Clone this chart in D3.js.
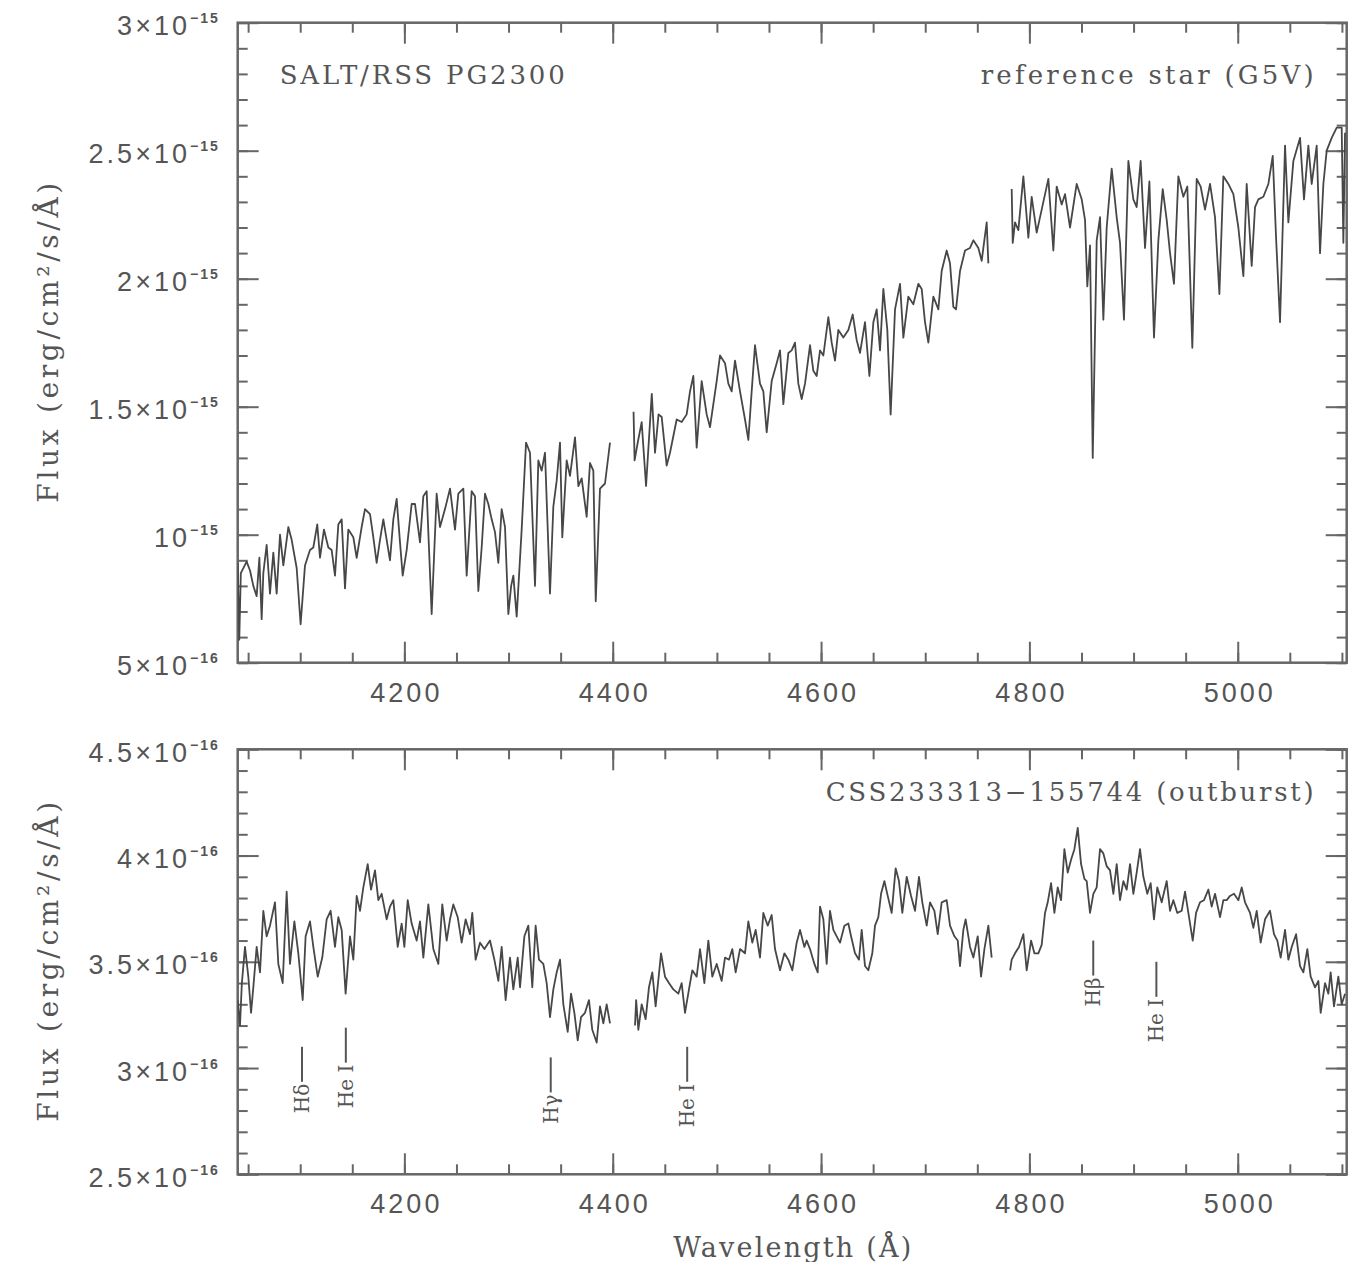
<!DOCTYPE html>
<html>
<head>
<meta charset="utf-8">
<script src="https://cdn.jsdelivr.net/npm/d3@7"></script>
<style>
  body { margin: 0; background: #fff; }
  svg text { fill: #555; }
</style>
</head>
<body>
<svg id="chart" width="1356" height="1262"></svg>
<script>
// flux values in units of 1e-16 erg/cm2/s/A, [wavelength, flux]
// null marks the chip gaps of the RSS detector
var topSpec = [
  [4040.0, 8.9], [4041.5, 5.9], [4043.0, 8.5], [4048.6, 8.95], [4051.8, 8.6], [4055.0, 8.0],
  [4058.2, 7.6], [4060.8, 9.1], [4063.0, 6.7], [4064.6, 8.5], [4067.8, 9.6], [4071.0, 7.7],
  [4074.2, 9.3], [4077.4, 7.7], [4080.6, 10.0], [4083.8, 8.8], [4088.6, 10.3], [4091.8, 9.8],
  [4096.6, 8.7], [4100.4, 6.5], [4104.6, 8.8], [4109.4, 9.4], [4112.6, 9.5], [4116.4, 10.4],
  [4119.0, 9.1], [4122.8, 10.2], [4127.0, 9.5], [4130.2, 9.4], [4133.4, 8.4], [4136.6, 10.4],
  [4139.8, 10.6], [4143.0, 7.9], [4146.2, 10.2], [4151.0, 9.9], [4154.2, 9.1], [4159.0, 10.3],
  [4162.2, 11.0], [4167.0, 10.8], [4170.2, 9.9], [4173.4, 8.9], [4176.6, 9.8], [4179.8, 10.6],
  [4183.0, 9.8], [4186.2, 9.0], [4189.4, 10.6], [4192.6, 11.4], [4195.8, 9.7], [4198.4, 8.4],
  [4202.2, 9.4], [4207.0, 11.2], [4210.2, 11.2], [4215.0, 9.7], [4218.2, 11.5], [4221.4, 11.7],
  [4226.2, 6.9], [4231.0, 11.6], [4234.2, 10.3], [4239.0, 11.0], [4243.8, 11.8], [4248.6, 10.2],
  [4251.8, 11.6], [4256.6, 11.8], [4259.8, 8.4], [4264.6, 11.7], [4267.8, 11.5], [4271.0, 7.8],
  [4274.2, 9.5], [4277.4, 11.6], [4280.6, 11.2], [4283.8, 10.6], [4287.0, 10.1], [4290.2, 8.9],
  [4293.4, 11.0], [4296.6, 10.3], [4299.8, 6.9], [4302.5, 8.0], [4304.6, 8.4], [4307.8, 6.8],
  [4312.6, 10.2], [4316.8, 13.6], [4320.6, 13.2], [4325.4, 8.0], [4328.6, 12.9], [4331.8, 12.5],
  [4335.0, 13.2], [4339.8, 7.7], [4343.0, 11.1], [4346.2, 12.1], [4349.4, 13.6], [4351.6, 9.9],
  [4355.8, 12.9], [4359.0, 12.3], [4363.8, 13.8], [4367.0, 11.9], [4370.2, 12.2], [4375.0, 10.7],
  [4378.2, 12.8], [4381.4, 12.5], [4383.7, 7.4], [4387.8, 11.8], [4392.6, 12.0], [4397.4, 13.6],
  null,
  [4420.0, 14.8], [4421.0, 12.9], [4424.0, 13.6], [4427.8, 14.4], [4432.0, 11.9], [4437.5, 15.5],
  [4440.6, 13.2], [4444.0, 14.7], [4447.0, 14.6], [4451.8, 12.7], [4455.0, 13.2], [4461.4, 14.5],
  [4466.2, 14.4], [4471.0, 14.7], [4474.2, 15.6], [4477.4, 16.2], [4480.6, 13.4], [4485.4, 16.0],
  [4490.2, 14.7], [4493.4, 14.2], [4499.8, 16.0], [4503.0, 17.0], [4507.8, 16.7], [4511.0, 15.9],
  [4514.2, 15.6], [4517.4, 16.8], [4522.2, 15.6], [4527.0, 14.5], [4530.2, 13.7], [4533.4, 15.6],
  [4536.6, 17.4], [4541.4, 15.9], [4544.6, 15.6], [4547.8, 14.0], [4552.6, 16.0], [4557.4, 16.7],
  [4560.6, 17.2], [4563.8, 15.1], [4568.6, 17.1], [4571.8, 17.2], [4575.0, 17.5], [4578.2, 15.9],
  [4581.4, 15.3], [4584.6, 15.9], [4589.4, 17.4], [4592.6, 16.4], [4595.8, 16.2], [4599.0, 17.2],
  [4602.2, 17.0], [4607.0, 18.5], [4610.2, 17.5], [4613.4, 16.8], [4616.6, 18.0], [4621.4, 17.7],
  [4626.2, 18.0], [4630.4, 18.6], [4634.2, 17.6], [4637.4, 17.1], [4642.2, 18.3], [4646.4, 16.2],
  [4650.2, 18.3], [4653.4, 18.8], [4656.6, 17.2], [4659.8, 19.6], [4663.6, 18.0], [4666.8, 14.7],
  [4671.0, 18.8], [4675.8, 19.8], [4679.0, 17.7], [4683.8, 19.3], [4688.6, 19.0], [4693.4, 19.8],
  [4696.6, 19.6], [4699.8, 18.3], [4703.0, 17.5], [4707.8, 19.3], [4712.6, 18.8], [4715.8, 20.3],
  [4720.6, 21.1], [4723.8, 20.6], [4727.0, 18.9], [4729.6, 18.8], [4733.4, 20.3], [4738.2, 21.1],
  [4743.0, 21.2], [4746.2, 21.5], [4751.0, 21.2], [4754.2, 20.7], [4759.0, 22.2], [4760.6, 20.6],
  null,
  [4783.0, 23.5], [4784.0, 21.4], [4786.2, 22.2], [4789.4, 21.9], [4794.2, 24.0], [4799.0, 21.6],
  [4802.2, 23.2], [4807.0, 21.8], [4811.8, 22.7], [4818.2, 23.9], [4823.0, 21.1], [4826.2, 23.6],
  [4831.0, 22.9], [4834.2, 23.3], [4839.0, 22.0], [4845.4, 23.7], [4850.2, 23.1], [4853.4, 22.3],
  [4855.6, 19.7], [4858.2, 21.3], [4860.8, 13.0], [4864.6, 21.5], [4867.8, 22.4], [4871.0, 18.4],
  [4874.2, 22.0], [4879.0, 24.3], [4883.8, 22.4], [4887.0, 21.4], [4890.8, 18.4], [4895.0, 24.6],
  [4899.8, 23.1], [4903.0, 22.8], [4906.8, 24.6], [4911.0, 21.2], [4915.2, 23.8], [4919.6, 17.7],
  [4923.8, 21.5], [4928.0, 23.5], [4931.8, 22.3], [4935.0, 21.0], [4938.8, 19.8], [4943.0, 24.0],
  [4947.8, 23.2], [4951.6, 23.6], [4956.4, 17.3], [4960.6, 23.9], [4964.4, 23.6], [4968.6, 22.7],
  [4973.4, 23.7], [4978.2, 22.4], [4982.4, 19.4], [4986.2, 24.0], [4991.0, 23.7], [4995.8, 23.3],
  [5000.6, 22.0], [5005.4, 20.1], [5008.6, 23.7], [5013.4, 20.5], [5016.6, 22.8], [5019.8, 23.1],
  [5024.6, 23.2], [5029.4, 23.7], [5033.6, 24.8], [5036.8, 21.6], [5040.6, 18.3], [5045.4, 25.2],
  [5048.6, 22.2], [5053.4, 24.6], [5059.8, 25.5], [5063.6, 23.1], [5067.8, 25.2], [5071.0, 23.7],
  [5075.8, 25.2], [5079.0, 21.0], [5082.2, 23.7], [5085.4, 25.0], [5090.2, 25.5], [5095.0, 25.9],
  [5099.8, 25.9], [5101.4, 21.4], [5103.0, 25.7]
];

var botSpec = [
  [4040.0, 3.32], [4042.2, 3.20], [4044.0, 3.40], [4047.0, 3.57], [4050.2, 3.43], [4052.8, 3.26],
  [4055.0, 3.38], [4058.2, 3.57], [4061.4, 3.45], [4064.6, 3.74], [4067.8, 3.62], [4071.0, 3.67],
  [4075.8, 3.78], [4079.0, 3.49], [4083.2, 3.40], [4087.0, 3.83], [4090.2, 3.49], [4094.4, 3.69],
  [4098.2, 3.54], [4102.4, 3.32], [4105.2, 3.62], [4109.4, 3.69], [4112.6, 3.57], [4116.8, 3.43],
  [4121.2, 3.52], [4125.4, 3.70], [4129.2, 3.74], [4133.4, 3.57], [4136.6, 3.71], [4139.8, 3.65],
  [4143.6, 3.35], [4147.8, 3.62], [4151.0, 3.51], [4154.2, 3.81], [4157.4, 3.74], [4160.6, 3.85],
  [4164.8, 3.96], [4168.0, 3.84], [4171.8, 3.93], [4175.0, 3.79], [4178.2, 3.82], [4183.0, 3.70],
  [4186.2, 3.76], [4189.4, 3.79], [4193.6, 3.57], [4197.4, 3.68], [4200.0, 3.57], [4203.2, 3.79],
  [4207.0, 3.68], [4211.8, 3.60], [4215.0, 3.69], [4218.2, 3.52], [4223.0, 3.77], [4227.8, 3.56],
  [4232.6, 3.49], [4236.4, 3.77], [4240.6, 3.60], [4243.8, 3.70], [4247.0, 3.77], [4251.2, 3.71],
  [4255.0, 3.59], [4258.8, 3.70], [4263.0, 3.63], [4265.2, 3.73], [4268.4, 3.51], [4272.6, 3.59],
  [4276.8, 3.56], [4282.2, 3.60], [4286.4, 3.51], [4290.2, 3.41], [4293.4, 3.57], [4297.2, 3.32],
  [4301.4, 3.52], [4304.6, 3.37], [4308.8, 3.52], [4311.0, 3.38], [4315.2, 3.62], [4319.0, 3.67],
  [4322.8, 3.38], [4326.0, 3.67], [4329.2, 3.51], [4333.4, 3.49], [4336.6, 3.40], [4339.8, 3.24],
  [4343.0, 3.37], [4346.2, 3.45], [4349.4, 3.51], [4352.6, 3.30], [4356.8, 3.17], [4360.0, 3.35],
  [4363.2, 3.26], [4366.4, 3.13], [4369.6, 3.24], [4373.4, 3.26], [4377.2, 3.32], [4380.4, 3.18],
  [4384.6, 3.12], [4387.8, 3.29], [4391.0, 3.21], [4394.2, 3.30], [4397.4, 3.21],
  null,
  [4421.4, 3.20], [4422.5, 3.32], [4424.6, 3.18], [4427.8, 3.30], [4431.6, 3.23], [4434.8, 3.38],
  [4438.0, 3.45], [4441.2, 3.29], [4446.4, 3.54], [4450.2, 3.43], [4454.0, 3.40], [4458.2, 3.37],
  [4463.0, 3.35], [4466.2, 3.40], [4469.4, 3.26], [4473.2, 3.37], [4476.4, 3.46], [4480.6, 3.43],
  [4483.8, 3.56], [4488.0, 3.40], [4491.8, 3.60], [4495.6, 3.43], [4499.8, 3.49], [4504.6, 3.41],
  [4507.8, 3.52], [4511.6, 3.51], [4514.8, 3.56], [4518.0, 3.45], [4522.2, 3.56], [4527.0, 3.54],
  [4530.2, 3.69], [4534.0, 3.59], [4537.2, 3.65], [4541.4, 3.52], [4544.6, 3.73], [4548.8, 3.67],
  [4552.6, 3.72], [4555.8, 3.56], [4560.6, 3.46], [4564.8, 3.54], [4568.6, 3.51], [4572.4, 3.46],
  [4576.6, 3.59], [4579.8, 3.65], [4584.0, 3.57], [4586.2, 3.60], [4589.4, 3.56], [4593.6, 3.49],
  [4596.8, 3.45], [4599.0, 3.76], [4602.2, 3.70], [4605.4, 3.49], [4608.6, 3.74], [4611.8, 3.65],
  [4615.0, 3.62], [4618.2, 3.59], [4622.4, 3.67], [4626.2, 3.68], [4628.8, 3.62], [4632.6, 3.54],
  [4636.4, 3.51], [4639.0, 3.65], [4642.2, 3.48], [4645.4, 3.46], [4649.2, 3.54], [4651.8, 3.67],
  [4655.0, 3.71], [4657.6, 3.82], [4660.8, 3.88], [4664.0, 3.81], [4667.8, 3.73], [4671.6, 3.94],
  [4674.8, 3.88], [4678.0, 3.73], [4682.2, 3.90], [4686.4, 3.81], [4690.2, 3.74], [4694.0, 3.90],
  [4697.2, 3.78], [4701.4, 3.67], [4704.6, 3.78], [4708.8, 3.74], [4712.0, 3.63], [4715.8, 3.78],
  [4720.6, 3.79], [4723.8, 3.67], [4728.0, 3.62], [4731.2, 3.60], [4733.4, 3.48], [4736.6, 3.65],
  [4738.8, 3.70], [4743.0, 3.57], [4746.2, 3.52], [4750.4, 3.62], [4753.6, 3.43], [4756.8, 3.56],
  [4760.6, 3.67], [4763.8, 3.52],
  null,
  [4781.5, 3.46], [4783.0, 3.51], [4786.2, 3.54], [4790.0, 3.57], [4794.2, 3.63], [4797.4, 3.46],
  [4801.6, 3.60], [4804.8, 3.54], [4808.6, 3.54], [4811.8, 3.58], [4815.0, 3.73], [4817.6, 3.78],
  [4820.8, 3.87], [4824.0, 3.73], [4827.2, 3.85], [4830.4, 3.79], [4833.6, 4.03], [4836.8, 3.92],
  [4840.0, 3.98], [4843.2, 4.03], [4846.4, 4.13], [4849.6, 3.96], [4852.8, 3.89], [4855.0, 3.88],
  [4858.2, 3.73], [4861.4, 3.82], [4864.6, 3.85], [4867.8, 4.03], [4871.0, 4.01], [4874.2, 3.95],
  [4877.4, 3.93], [4880.6, 3.82], [4883.8, 3.96], [4887.0, 3.79], [4890.2, 3.88], [4893.4, 3.84],
  [4896.6, 3.96], [4899.8, 3.82], [4903.0, 3.92], [4906.2, 4.03], [4909.4, 3.90], [4913.2, 3.82],
  [4916.4, 3.87], [4919.6, 3.70], [4922.8, 3.85], [4927.0, 3.78], [4931.8, 3.88], [4935.0, 3.74],
  [4938.2, 3.79], [4942.0, 3.73], [4946.2, 3.74], [4949.4, 3.83], [4952.6, 3.73], [4956.8, 3.60],
  [4960.0, 3.73], [4963.8, 3.78], [4967.6, 3.79], [4971.8, 3.84], [4975.0, 3.76], [4978.2, 3.82],
  [4983.0, 3.71], [4986.2, 3.79], [4989.4, 3.79], [4992.6, 3.81], [4996.4, 3.82], [5000.6, 3.79],
  [5003.8, 3.85], [5007.0, 3.78], [5011.8, 3.73], [5015.0, 3.66], [5018.2, 3.74], [5022.0, 3.59],
  [5026.2, 3.70], [5031.0, 3.74], [5034.8, 3.63], [5038.0, 3.60], [5041.2, 3.52], [5045.4, 3.65],
  [5048.6, 3.51], [5051.8, 3.57], [5056.0, 3.63], [5059.8, 3.48], [5063.0, 3.45], [5066.8, 3.56],
  [5070.0, 3.43], [5074.2, 3.38], [5077.4, 3.41], [5079.6, 3.26], [5083.8, 3.40], [5087.0, 3.35],
  [5089.2, 3.45], [5092.4, 3.29], [5096.6, 3.43], [5099.8, 3.30], [5103.0, 3.35]
];

// line identifications in the outburst spectrum
var lineNames = ["H\u03b4", "He I", "H\u03b3", "He I", "H\u03b2", "He I"];
var lineWaves = [4101.7, 4143.8, 4340.5, 4471.5, 4861.3, 4921.9];
var lineTops = [3.10, 3.19, 3.05, 3.10, 3.60, 3.50];

// axis ticks
var xMajor = [4200, 4400, 4600, 4800, 5000];
var topYMajor = [5, 10, 15, 20, 25, 30];
var topYLabels = [["5", "\u221216"], ["", "\u221215"], ["1.5", "\u221215"], ["2", "\u221215"], ["2.5", "\u221215"], ["3", "\u221215"]];
var botYMajor = [2.5, 3, 3.5, 4, 4.5];
var botYLabels = [["2.5", "\u221216"], ["3", "\u221216"], ["3.5", "\u221216"], ["4", "\u221216"], ["4.5", "\u221216"]];

var svg = d3.select("#chart"),
  left = 237.7,
  right = 1346.7,
  sans = "'Liberation Sans', Arial, sans-serif",
  serif = "'DejaVu Serif', serif",
  frameColor = "#666";

var x = d3.scaleLinear().domain([4040, 5104.6]).range([left, right]);
var xMinor = d3.range(4050, 5101, 50);

var yTop = d3.scaleLinear().domain([5, 30]).range([662.7, 22.7]);
var yBot = d3.scaleLinear().domain([2.5, 4.5]).range([1174.3, 749.3]);

function styleTicks(g) {
  g.select(".domain").remove();
  g.selectAll(".tick line").attr("stroke", frameColor).attr("stroke-width", 2);
}

function drawPanel(y, spec, yMajor, yMinor, yLabels, id) {
  var g = svg.append("g");
  var bottom = y.range()[0], top = y.range()[1];

  // minor ticks on all sides
  g.append("g").attr("transform", "translate(0," + bottom + ")")
    .call(d3.axisBottom(x).tickValues(xMinor).tickSizeInner(-10).tickSizeOuter(0).tickFormat(""))
    .call(styleTicks);
  g.append("g").attr("transform", "translate(0," + top + ")")
    .call(d3.axisTop(x).tickValues(xMinor).tickSizeInner(-10).tickSizeOuter(0).tickFormat(""))
    .call(styleTicks);
  g.append("g").attr("transform", "translate(" + left + ",0)")
    .call(d3.axisLeft(y).tickValues(yMinor).tickSizeInner(-10).tickSizeOuter(0).tickFormat(""))
    .call(styleTicks);
  g.append("g").attr("transform", "translate(" + right + ",0)")
    .call(d3.axisRight(y).tickValues(yMinor).tickSizeInner(-10).tickSizeOuter(0).tickFormat(""))
    .call(styleTicks);

  // major ticks + labels
  g.append("g").attr("transform", "translate(0," + bottom + ")")
    .call(d3.axisBottom(x).tickValues(xMajor).tickSizeInner(-21).tickSizeOuter(0).tickPadding(20).tickFormat(d3.format("d")))
    .call(styleTicks)
    .attr("font-size", 27).attr("font-family", sans)
    .selectAll(".tick text").attr("letter-spacing", 3).attr("dx", 1.5);
  g.append("g").attr("transform", "translate(0," + top + ")")
    .call(d3.axisTop(x).tickValues(xMajor).tickSizeInner(-21).tickSizeOuter(0).tickFormat(""))
    .call(styleTicks);
  g.append("g").attr("transform", "translate(" + right + ",0)")
    .call(d3.axisRight(y).tickValues(yMajor).tickSizeInner(-21).tickSizeOuter(0).tickFormat(""))
    .call(styleTicks);

  var ya = g.append("g").attr("transform", "translate(" + left + ",0)")
    .call(d3.axisLeft(y).tickValues(yMajor).tickSizeInner(-21).tickSizeOuter(0).tickPadding(18).tickFormat(""))
    .call(styleTicks)
    .attr("font-size", 27).attr("font-family", sans);
  ya.selectAll(".tick text").each(function(d, i) {
    var t = d3.select(this).attr("dy", "0.45em").attr("letter-spacing", 3);
    var lab = yLabels[i];
    t.append("tspan").text(lab[0] ? lab[0] + "\u00d710" : "10");
    t.append("tspan").attr("dy", -12).attr("font-size", 14).attr("font-weight", "bold")
      .attr("letter-spacing", 2).text(lab[1]);
  });

  // frame
  g.append("rect")
    .attr("x", left).attr("y", top)
    .attr("width", right - left).attr("height", bottom - top)
    .attr("fill", "none").attr("stroke", frameColor).attr("stroke-width", 2.5);

  // spectrum
  svg.append("clipPath").attr("id", id)
    .append("rect").attr("x", left).attr("y", top).attr("width", right - left).attr("height", bottom - top);
  var line = d3.line()
    .defined(function(d) { return d !== null; })
    .x(function(d) { return x(d[0]); })
    .y(function(d) { return y(d[1]); });
  g.append("path")
    .datum(spec)
    .attr("clip-path", "url(#" + id + ")")
    .attr("fill", "none")
    .attr("stroke", "#474747")
    .attr("stroke-width", 1.8)
    .attr("stroke-linejoin", "round")
    .attr("d", line);

  // y axis title
  g.append("text")
    .attr("transform", "translate(58," + (top + bottom) / 2 + ") rotate(-90)")
    .attr("text-anchor", "middle")
    .attr("font-family", serif).attr("font-size", 28)
    .attr("textLength", 320).attr("lengthAdjust", "spacing")
    .text("Flux (erg/cm\u00b2/s/\u00c5)");
  return g;
}

var gTop = drawPanel(yTop, topSpec, topYMajor, d3.range(5, 30.01, 1), topYLabels, "clipTop");
var gBot = drawPanel(yBot, botSpec, botYMajor, d3.range(2.5, 4.501, 0.1), botYLabels, "clipBot");

// panel captions
gTop.append("text")
  .attr("x", left + 42).attr("y", yTop.range()[1] + 61)
  .attr("font-family", serif).attr("font-size", 26)
  .attr("textLength", 285).attr("lengthAdjust", "spacing")
  .text("SALT/RSS PG2300");
gTop.append("text")
  .attr("x", right - 33).attr("y", yTop.range()[1] + 61)
  .attr("text-anchor", "end")
  .attr("font-family", serif).attr("font-size", 26)
  .attr("textLength", 333).attr("lengthAdjust", "spacing")
  .text("reference star (G5V)");
gBot.append("text")
  .attr("x", right - 33).attr("y", yBot.range()[1] + 52)
  .attr("text-anchor", "end")
  .attr("font-family", serif).attr("font-size", 26)
  .attr("textLength", 488).attr("lengthAdjust", "spacing")
  .text("CSS233313\u2212155744 (outburst)");

// line markers
var marks = gBot.selectAll(".mark")
  .data(lineWaves)
  .enter().append("g")
  .attr("class", "mark");
marks.append("line")
  .attr("x1", function(d) { return x(d); })
  .attr("x2", function(d) { return x(d); })
  .attr("y1", function(d, i) { return yBot(lineTops[i]); })
  .attr("y2", function(d, i) { return yBot(lineTops[i]) + 35; })
  .attr("stroke", "#555").attr("stroke-width", 2);
marks.append("text")
  .attr("transform", function(d, i) {
    return "translate(" + (x(d) + 7) + "," + (yBot(lineTops[i]) + 37) + ") rotate(-90)";
  })
  .attr("text-anchor", "end")
  .attr("font-family", serif).attr("font-size", 20)
  .text(function(d, i) { return lineNames[i]; });

// x axis title
svg.append("text")
  .attr("x", (left + right) / 2).attr("y", 1257)
  .attr("text-anchor", "middle")
  .attr("font-family", serif).attr("font-size", 27)
  .attr("textLength", 238).attr("lengthAdjust", "spacing")
  .text("Wavelength (\u00c5)");
</script>
</body>
</html>
